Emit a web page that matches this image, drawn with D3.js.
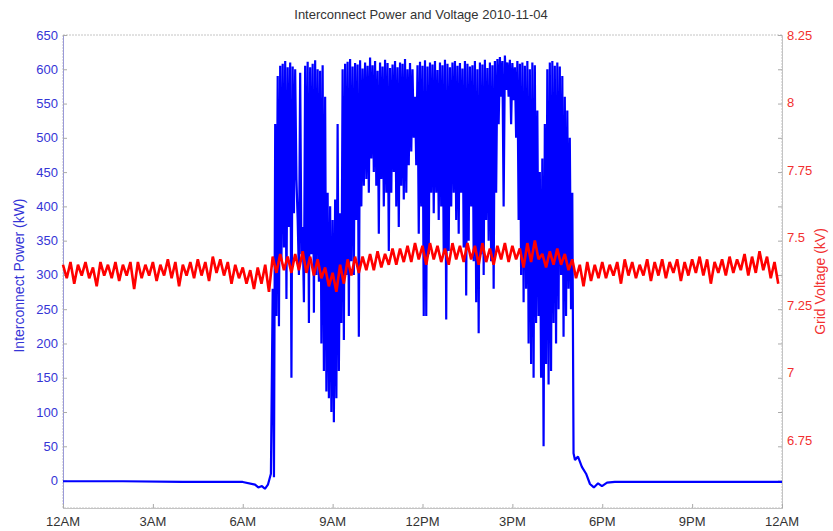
<!DOCTYPE html>
<html>
<head>
<meta charset="utf-8">
<script src="https://cdn.jsdelivr.net/npm/d3@7"></script>
<style>
  body { margin: 0; background: #fff; }
  text { font-family: "Liberation Sans", Arial, sans-serif; }
</style>
</head>
<body>
<svg width="833" height="531"></svg>
<script>
// x tick labels, every 3 hours
const hourTicks = [0, 3, 6, 9, 12, 15, 18, 21, 24];
const hourLabels = ["12AM", "3AM", "6AM", "9AM", "12PM", "3PM", "6PM", "9PM", "12AM"];

// power before sunrise (hour, kW)
const amTime = [0, 2, 4, 6, 6.41, 6.52, 6.64, 6.74, 6.84, 6.94];
const amPower = [-1, -1, -2, -2, -6, -10, -8, -12, -6, 10];

// daytime block: 5 minute samples from 7:00, max and min inside each sample
const dayStart = 7;
const dayStep = 5 / 60;
const powerHi = [
  280, 520, 590, 605, 608, 612, 603, 610, 604, 600,
  380, 595, 370, 605, 611, 603, 608, 613, 600, 598,
  606, 560, 420, 400, 380, 410, 520, 390, 600, 608,
  611, 615, 604, 609, 607, 613, 601, 610, 605, 617,
  606, 612, 598, 610, 604, 614, 609, 602, 607, 612,
  603, 610, 608, 615, 600, 609, 600, 560, 606, 611,
  605, 613, 604, 610, 607, 612, 599, 610, 606, 614,
  608, 603, 610, 612, 605, 609, 601, 612, 608, 604,
  606, 612, 600, 610, 607, 614, 602, 610, 606, 612,
  615, 618, 612, 620, 610, 614, 609, 603, 612, 608,
  610, 605, 612, 600, 610, 606, 540, 450, 470, 520,
  600, 610, 612, 605, 610, 604, 590, 560, 540, 500,
  420
];
const powerLo = [
  5, 240, 225, 320, 340, 265, 370, 150, 390, 440,
  300, 330, 260, 310, 230, 330, 245, 300, 290, 200,
  160, 130, 120, 100, 85, 120, 160, 230, 205, 300,
  240, 320, 300, 380, 210, 400, 430, 440, 420, 470,
  450, 430, 360, 440, 400, 420, 335, 420, 450, 400,
  370, 430, 410, 420, 460, 480, 500, 460, 360, 400,
  240, 240, 330, 420, 390, 420, 380, 400, 330, 235,
  335, 400, 420, 380, 360, 420, 340, 270, 350, 400,
  320, 260, 215, 330, 300, 380, 350, 320, 280, 420,
  520, 560, 400, 570, 560, 520, 555, 500, 380, 300,
  260, 280, 200, 170, 150, 230, 240, 150, 50, 170,
  140, 160, 230, 200, 250, 300, 210, 240, 280, 250,
  40
];

// power after sunset (hour, kW)
const pmTime = [17.09, 17.19, 17.32, 17.46, 17.59, 17.72, 17.86, 17.99, 18.16, 18.42, 21, 24];
const pmPower = [30, 35, 20, 10, -5, -10, -4, -8, -3, -2, -2, -2];

// grid voltage, 15 minute samples, max and min (kV)
const voltStep = 0.25;
const voltHi = [
  7.40, 7.41, 7.40, 7.41, 7.39, 7.41, 7.40, 7.41, 7.40, 7.41, 7.41, 7.40,
  7.41, 7.40, 7.42, 7.41, 7.40, 7.41, 7.42, 7.41, 7.43, 7.42, 7.41, 7.40,
  7.39, 7.38, 7.39, 7.40,
  7.43, 7.44, 7.43, 7.44, 7.45, 7.43, 7.42,
  7.39, 7.37, 7.40,
  7.42, 7.43, 7.43, 7.44, 7.45, 7.44, 7.46, 7.46,
  7.47, 7.48, 7.47, 7.48, 7.47, 7.46, 7.48, 7.47, 7.48, 7.47, 7.48, 7.46,
  7.47, 7.48, 7.47, 7.46, 7.48, 7.49,
  7.44, 7.45, 7.46, 7.44,
  7.42, 7.40, 7.41, 7.40,
  7.41, 7.40, 7.41, 7.42, 7.41, 7.40, 7.42, 7.41, 7.42, 7.41, 7.42, 7.41,
  7.42, 7.43, 7.42, 7.41, 7.42, 7.43, 7.42, 7.44, 7.43, 7.45, 7.43, 7.41
];
const voltLo = [
  7.35, 7.33, 7.36, 7.35, 7.32, 7.36, 7.35, 7.34, 7.36, 7.31, 7.35, 7.36,
  7.34, 7.36, 7.35, 7.32, 7.36, 7.35, 7.36, 7.34, 7.37, 7.36, 7.33, 7.35,
  7.33, 7.31, 7.33, 7.30,
  7.37, 7.38, 7.37, 7.38, 7.37, 7.36, 7.35,
  7.32, 7.30, 7.33,
  7.36, 7.37, 7.38, 7.38, 7.39, 7.40, 7.40, 7.41,
  7.41, 7.42, 7.40, 7.42, 7.41, 7.40, 7.42, 7.41, 7.42, 7.40, 7.41, 7.40,
  7.42, 7.41, 7.42, 7.39, 7.41, 7.42,
  7.39, 7.40, 7.40, 7.38,
  7.35, 7.32, 7.34, 7.35,
  7.35, 7.36, 7.33, 7.36, 7.35, 7.36, 7.34, 7.36, 7.35, 7.37, 7.34, 7.36,
  7.37, 7.36, 7.33, 7.37, 7.36, 7.37, 7.38, 7.36, 7.37, 7.38, 7.35, 7.33
];

const powerTicks = d3.range(0, 651, 50);
const voltTicks = [6.75, 7, 7.25, 7.5, 7.75, 8, 8.25];

// layout
const plot = {left: 63, right: 782, top: 35, bottom: 508};
const blue = "#0000ff", red = "#ff0000";
const blueText = "#3535d6", redText = "#f23030";

const svg = d3.select("svg");
const x = d3.scaleLinear().domain([0, 24]).range([plot.left, plot.right]);
const yP = d3.scaleLinear().domain([-40, 650]).range([plot.bottom, plot.top]);
const yV = d3.scaleLinear().domain([6.5, 8.25]).range([plot.bottom, plot.top]);

// build point lists from the arrays
let powerPts = amTime.map((t, i) => [t, amPower[i]]);
powerHi.forEach((h, i) => {
  const t = dayStart + i * dayStep;
  powerPts.push([t, h]);
  powerPts.push([t + dayStep / 2, powerLo[i]]);
});
pmTime.forEach((t, i) => powerPts.push([t, pmPower[i]]));

let voltPts = [];
voltHi.forEach((h, i) => {
  const t = i * voltStep;
  voltPts.push([t, h]);
  voltPts.push([t + voltStep / 2, voltLo[i]]);
});

// box
const boxColor = "#c4c4c4";
svg.append("rect")
  .attr("x", plot.left).attr("y", plot.top)
  .attr("width", plot.right - plot.left).attr("height", plot.bottom - plot.top)
  .attr("fill", "none").attr("stroke", boxColor).attr("stroke-width", 1)
  .attr("stroke-dasharray", "2,1");

// left axis
const axL = svg.append("g").attr("transform", `translate(${plot.left},0)`)
  .call(d3.axisRight(yP).tickValues(powerTicks).tickSize(4).tickFormat(""));
axL.select(".domain").attr("stroke", "#9a9ad8");
axL.selectAll(".tick line").attr("stroke", "#aaaaaa");
svg.append("g").selectAll("text").data(powerTicks).join("text")
  .attr("x", plot.left - 5).attr("y", d => yP(d)).attr("dy", "0.35em")
  .attr("text-anchor", "end").attr("font-size", 13).attr("fill", blueText)
  .text(d => d);

// right axis (ticks inside, left power ticks mirrored)
const axR = svg.append("g").attr("transform", `translate(${plot.right},0)`)
  .call(d3.axisLeft(yP).tickValues(powerTicks).tickSize(4).tickFormat(""));
axR.select(".domain").attr("stroke", boxColor);
axR.selectAll(".tick line").attr("stroke", "#aaaaaa");
svg.append("g").selectAll("text").data(voltTicks).join("text")
  .attr("x", plot.right + 5).attr("y", d => yV(d)).attr("dy", "0.35em")
  .attr("text-anchor", "start").attr("font-size", 13).attr("fill", redText)
  .text(d => d3.format("")(d));

// bottom axis
const axB = svg.append("g").attr("transform", `translate(0,${plot.bottom})`)
  .call(d3.axisTop(x).tickValues(hourTicks).tickSize(4).tickFormat(""));
axB.select(".domain").attr("stroke", boxColor);
axB.selectAll(".tick line").attr("stroke", "#aaaaaa");
svg.append("g").selectAll("text").data(hourTicks).join("text")
  .attr("x", d => x(d)).attr("y", 526)
  .attr("text-anchor", "middle").attr("font-size", 13).attr("fill", "#333")
  .text((d, i) => hourLabels[i]);

// series
const powerLine = d3.line().x(d => x(d[0])).y(d => yP(d[1]));
const voltLine = d3.line().x(d => x(d[0])).y(d => yV(d[1]));

svg.append("path").datum(powerPts)
  .attr("d", powerLine).attr("fill", "none")
  .attr("stroke", blue).attr("stroke-width", 2.2)
  .attr("stroke-linejoin", "bevel");

svg.append("path").datum(voltPts)
  .attr("d", voltLine).attr("fill", "none")
  .attr("stroke", red).attr("stroke-width", 2.6)
  .attr("stroke-linejoin", "bevel");

// labels
svg.append("text").attr("x", 421).attr("y", 19)
  .attr("text-anchor", "middle").attr("font-size", 13).attr("fill", "#333")
  .text("Interconnect Power and Voltage 2010-11-04");

svg.append("text")
  .attr("transform", `translate(24,${(plot.top + plot.bottom) / 2 + 4}) rotate(-90)`)
  .attr("text-anchor", "middle").attr("font-size", 14).attr("fill", blueText)
  .text("Interconnect Power (kW)");

svg.append("text")
  .attr("transform", `translate(825,${(plot.top + plot.bottom) / 2 + 10}) rotate(-90)`)
  .attr("text-anchor", "middle").attr("font-size", 14).attr("fill", redText)
  .text("Grid Voltage (kV)");
</script>
</body>
</html>
